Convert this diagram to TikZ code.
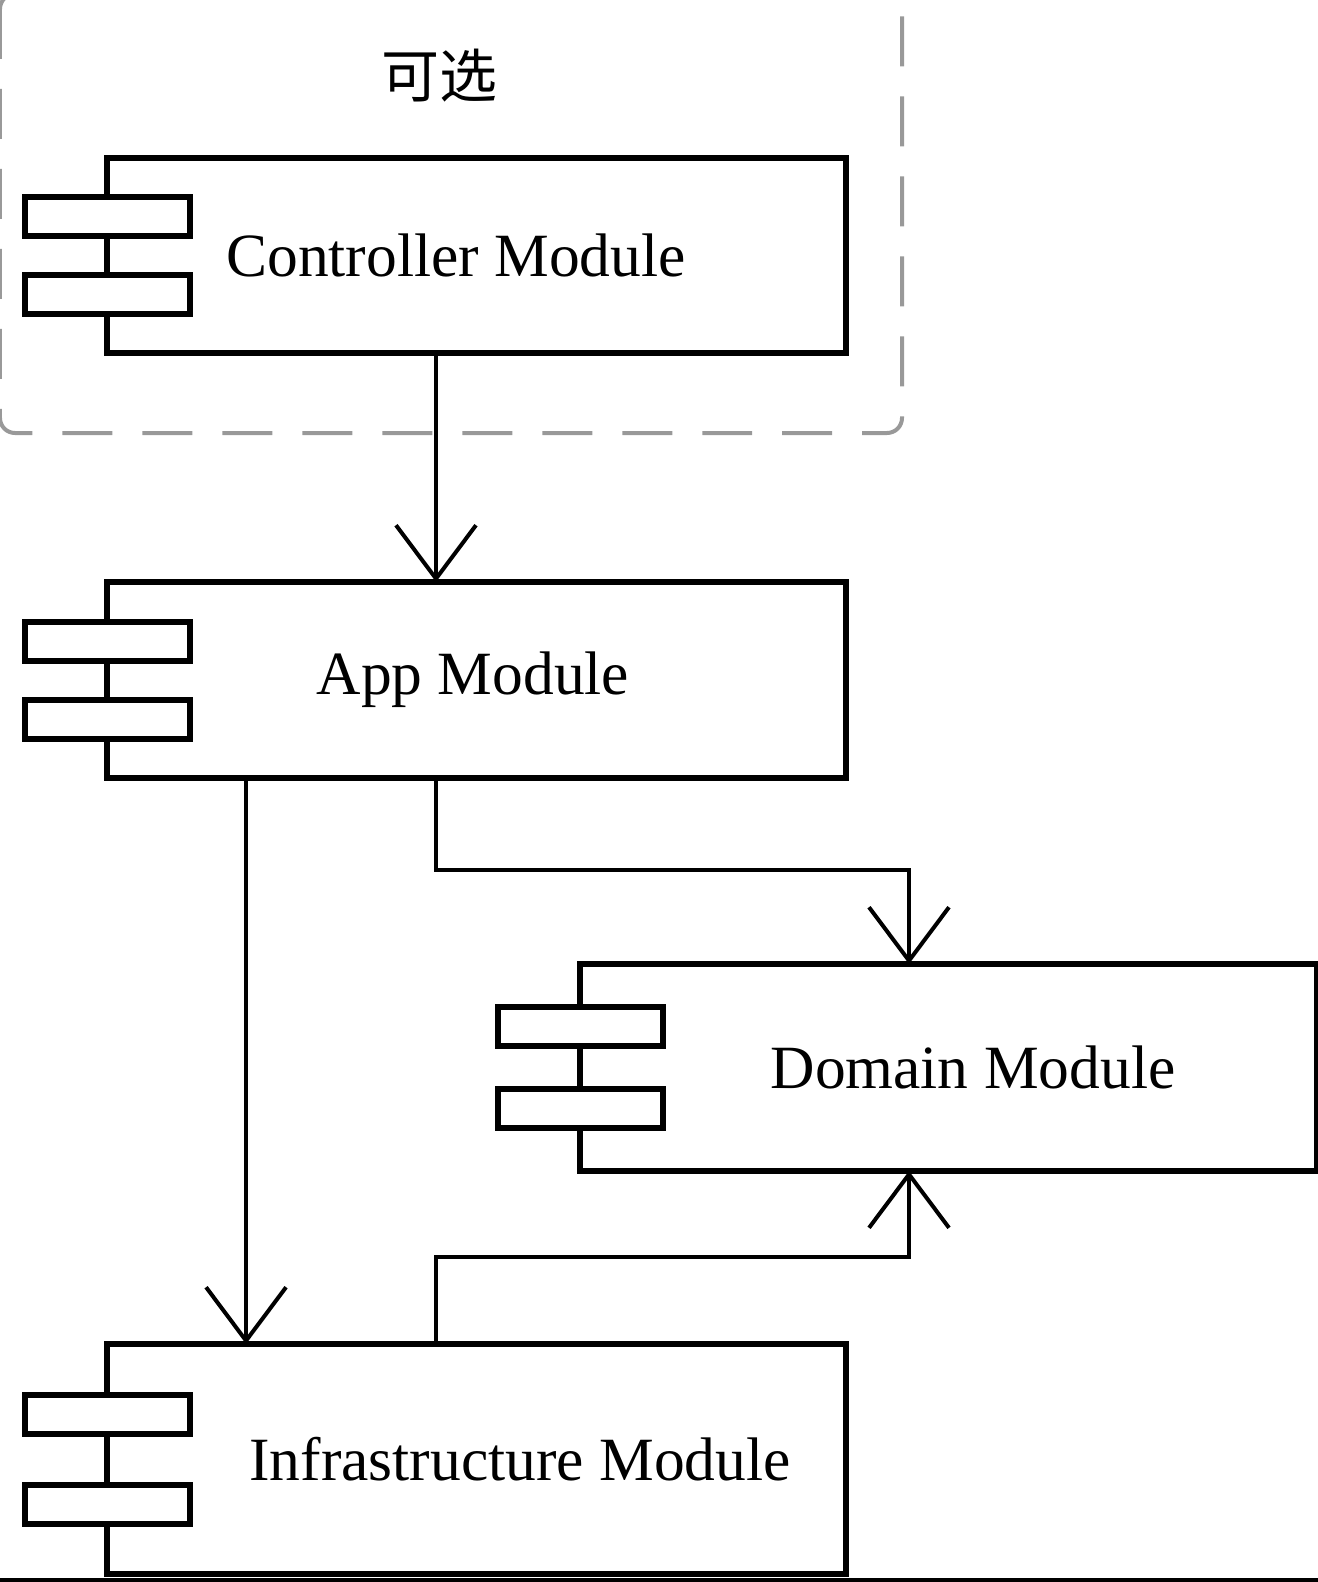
\documentclass[tikz,border=0pt]{standalone}
\usepackage{fontspec}
\setmainfont{Liberation Serif}
\newfontfamily\cjkfont{Noto Sans CJK SC}
\usetikzlibrary{arrows.meta}

\begin{document}
\begin{tikzpicture}[x=0.02cm,y=-0.02cm,
  module/.style={draw,line width=0.12cm,fill=white,minimum width=14.78cm,inner sep=0pt,outer sep=0pt},
  port/.style={draw,line width=0.12cm,fill=white,minimum width=3.3cm,minimum height=0.78cm,inner sep=0pt,outer sep=0pt},
  modtext/.style={font=\fontsize{35}{42}\selectfont},
  dep/.style={line width=0.08cm,-{Straight Barb[length=1.07cm,width=1.6cm]}},
  optional/.style={draw=gray!80,line width=0.08cm,dash pattern=on 1cm off 0.6cm,rounded corners=0.3cm}]
\useasboundingbox (0,0) rectangle (1318,1582);

% Zona opcional
\draw[optional] (0,-6) rectangle (902,433);
\node[font=\cjkfont\fontsize{33}{40}\selectfont] (opt-txt) at (439,76) {可选};

% Modulos
\node[module,minimum height=3.9cm] (ctrl) at (476.5,255.5) {};
\node[module,minimum height=3.92cm] (app) at (476.5,680) {};
\node[module,minimum width=14.74cm,minimum height=4.14cm] (dom) at (948.5,1067.5) {};
\node[module,minimum height=4.6cm] (infra) at (476.5,1459) {};

% Puertos de cada modulo
\foreach \m/\d in {ctrl/39,app/39,dom/41,infra/45} {
    \node[port] (\m-p1) at ([yshift=\d*0.02cm]\m.west) {};
    \node[port] (\m-p2) at ([yshift=-\d*0.02cm]\m.west) {};
}

% Nombres
\node[modtext] (ctrl-txt) at ([xshift=-0.41cm]ctrl.center) {Controller Module};
\node[modtext] (app-txt) at ([xshift=-0.07cm]app.center) {App Module};
\node[modtext] (dom-txt) at ([xshift=0.49cm]dom.center) {Domain Module};
\node[modtext] (infra-txt) at ([xshift=0.87cm]infra.center) {Infrastructure Module};

% Dependencias
\draw[dep] ([xshift=-0.81cm]ctrl.south) -- ([xshift=-0.81cm]app.north);
\draw[dep] ([xshift=-0.81cm]app.south) -- ++(0,92) -| ([xshift=-0.79cm]dom.north);
\draw[dep] ([xshift=-4.61cm]app.south) -- ([xshift=-4.61cm]infra.north);
\draw[dep] ([xshift=-0.81cm]infra.north) -- ++(0,-87) -| ([xshift=-0.79cm]dom.south);

% Borde inferior
\draw[line width=0.08cm] (0,1580) -- (1318,1580);
\end{tikzpicture}
\end{document}
